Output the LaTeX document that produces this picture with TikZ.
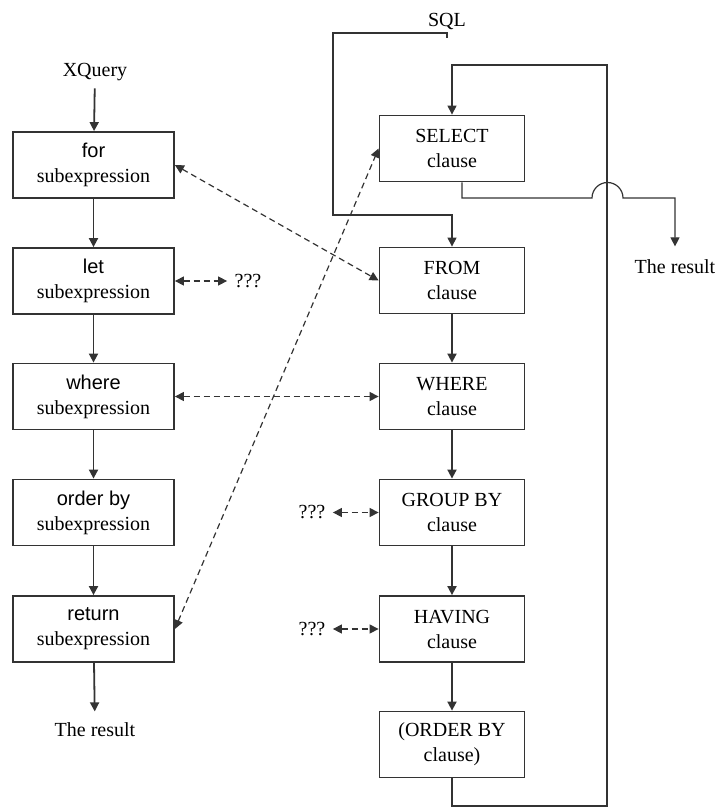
\documentclass[tikz,border=0pt]{standalone}
\usepackage{fontspec}
\setmainfont{Liberation Serif}
\setsansfont{Liberation Sans}
\usetikzlibrary{arrows.meta}
\newcommand{\kw}[1]{{\sffamily #1}\\{\rmfamily subexpression}}
\tikzset{
  xbox/.style={draw,line width=0.9pt,minimum width=80.5pt,minimum height=33pt,
    align=center,inner sep=1pt,font=\fontsize{10}{12.5}\selectfont},
  sbox/.style={xbox,minimum width=72.5pt},
  link/.style={<->,line width=0.6pt,dash pattern=on 3pt off 2pt},
  thin line/.style={line width=0.6pt},
}
\begin{document}
\begin{tikzpicture}[x=0.5pt,y=-0.5pt,->,>={Triangle[length=4.5pt,width=4.5pt]},
    line width=0.9pt,color=black!80,text=black]
        \useasboundingbox (0,0) rectangle (723,808);
        \node (XQ) at (95,72) {XQuery};
        \node[xbox] (For) at (93.5,165) {\kw{for}};
        \node[xbox] (Let) at (93.5,281) {\kw{let}};
        \node[xbox] (Wh) at (93.5,396.5) {\kw{where}};
        \node[xbox] (Ord) at (93.5,512.5) {\kw{order by}};
        \node[xbox] (Ret) at (93.5,629) {\kw{return}};
        \node (Res1) at (95,730) {The result};
        \node (SQL) at (447,22) {SQL};
        \node[sbox] (Sel) at (452,148.5) {SELECT\\clause};
        \node[sbox] (From) at (452,280.5) {FROM\\clause};
        \node[sbox] (Where) at (452,396.5) {WHERE\\clause};
        \node[sbox] (Group) at (452,512.5) {GROUP BY\\clause};
        \node[sbox] (Hav) at (452,629) {HAVING\\clause};
        \node[sbox] (OrdBy) at (452,744.5) {(ORDER BY\\clause)};
        \node (Res2) at (675,267) {The result};
        \node (Q1) at (248,281) {???};
        \node (Q2) at (312,512.5) {???};
        \node (Q3) at (312,629) {???};
        \draw (XQ) -- (For);
        \draw (For) -- (Let);
        \draw (Let) -- (Wh);
        \draw (Wh) -- (Ord);
        \draw (Ord) -- (Ret);
        \draw[shorten >=2pt] (Ret) -- (Res1);
        \draw (From) -- (Where);
        \draw (Where) -- (Group);
        \draw (Group) -- (Hav);
        \draw (Hav) -- (OrdBy);
        \draw[thin line] (SQL.south) |- (333,33) -- (333,215) -| (From.north);
        \draw[thin line] (OrdBy.south) |- (607,806) -- (607,65) -| (Sel.north);
        \draw[thin line,shorten >=3pt] ([xshift=5pt]Sel.south) |- (592,198)
          arc[start angle=180,end angle=0,radius=7.75pt] -| (Res2.north);
        \draw[link] (For.east) -- (From.west);
        \draw[link] (Ret.east) -- (Sel.west);
        \draw[link] (Wh) -- (Where);
        \draw[link] (Let) -- (Q1);
        \draw[link] (Q2) -- (Group);
        \draw[link] (Q3) -- (Hav);
      \end{tikzpicture}
\end{document}
